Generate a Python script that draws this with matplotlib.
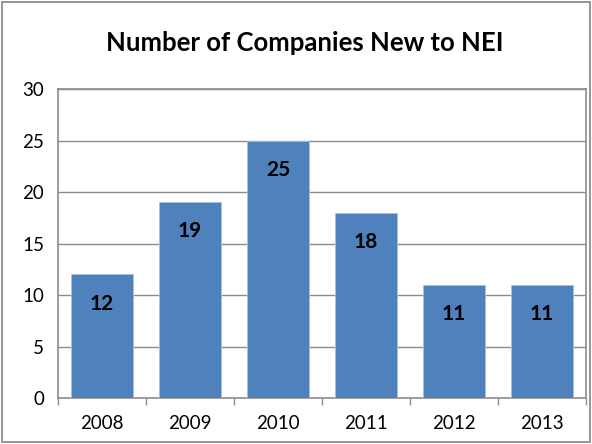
import matplotlib.pyplot as plt
from matplotlib.patches import Rectangle

years = ['2008', '2009', '2010', '2011', '2012', '2013']
companies = [12, 19, 25, 18, 11, 11]

plt.rcParams['font.family'] = ['Lato', 'DejaVu Sans']

fig = plt.figure(figsize=(5.92, 4.44), dpi=100)
ax = fig.add_axes([0.098, 0.1036, 0.892, 0.6959])

# outer chart frame
fig.patches.append(Rectangle((0.004, 0.005), 0.992, 0.99, transform=fig.transFigure,
                             fill=False, edgecolor='#8c8c8c', linewidth=1.3))

x = range(len(years))
bars = ax.bar(x, companies, width=0.7, color='#4f81bd', edgecolor='#a9c0e0',
              linewidth=0.6, zorder=3)

for b, v in zip(bars, companies):
    ax.annotate(str(v), (b.get_x() + b.get_width() / 2, v), xytext=(0, -21),
                textcoords='offset points', ha='center', va='center',
                fontsize=15, fontweight='bold', color='black', zorder=4)

ax.set_xlim(-0.5, len(years) - 0.5)
ax.set_ylim(0, 30)
ax.set_yticks(range(0, 31, 5))
ax.yaxis.grid(True, color='#8c8c8c', linewidth=1.0, zorder=0)
ax.set_axisbelow(True)

ax.set_xticks(x)
ax.set_xticklabels(years)
ax.set_xticks([i - 0.5 for i in range(len(years) + 1)], minor=True)
ax.tick_params(axis='x', which='major', length=0, pad=12, labelsize=13.5)
ax.tick_params(axis='x', which='minor', length=5, color='#8c8c8c', width=1.0)
ax.tick_params(axis='y', length=0, pad=10, labelsize=13.5)

for s in ax.spines.values():
    s.set_color('#8c8c8c')
    s.set_linewidth(1.2)

fig.text(0.514, 0.903, 'Number of Companies New to NEI', ha='center', va='center',
         fontsize=18.5, fontweight='bold')

fig.savefig('out.png', dpi=100)
